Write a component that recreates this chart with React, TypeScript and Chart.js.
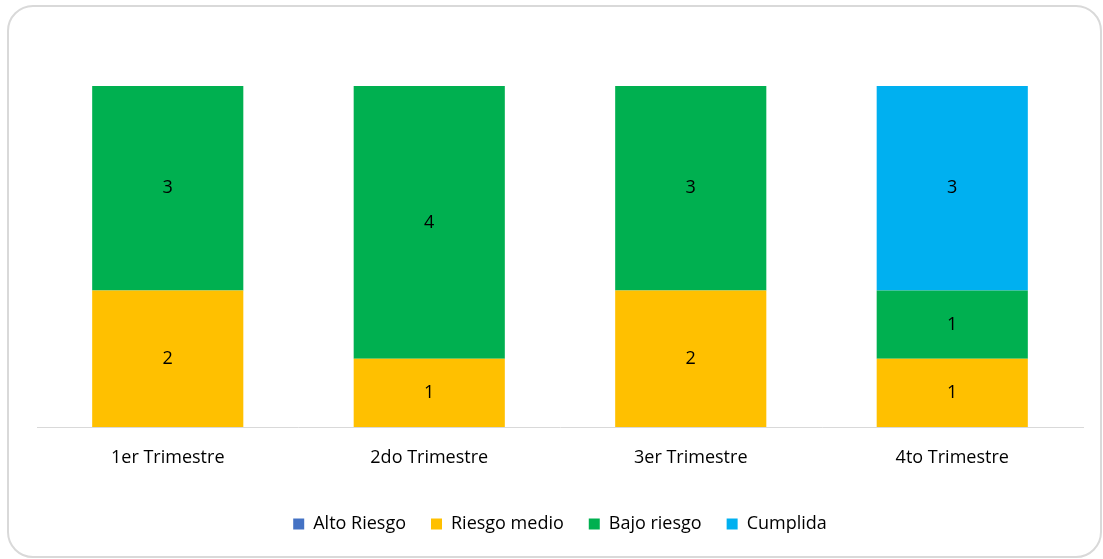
import React, { useEffect, useRef } from "react";
import { Chart, registerables } from "chart.js";

Chart.register(...registerables);

const categories = ["1er Trimestre", "2do Trimestre", "3er Trimestre", "4to Trimestre"];
const altoRiesgo = [0, 0, 0, 0];
const riesgoMedio = [2, 1, 2, 1];
const bajoRiesgo = [3, 4, 3, 1];
const cumplida = [0, 0, 0, 3];

const FONT = "'Open Sans', Lato, sans-serif";

const valueLabels = {
  id: "valueLabels",
  afterDatasetsDraw(chart: any) {
    const ctx = chart.ctx;
    ctx.save();
    ctx.font = `18px ${FONT}`;
    ctx.fillStyle = "#000000";
    ctx.textAlign = "center";
    ctx.textBaseline = "middle";
    chart.data.datasets.forEach((ds: any, i: number) => {
      const meta = chart.getDatasetMeta(i);
      meta.data.forEach((bar: any, j: number) => {
        const v = ds.data[j];
        if (!v) return;
        const y = (bar.y + bar.base) / 2;
        ctx.fillText(String(v), bar.x, y);
      });
    });
    ctx.restore();
  },
};

export default function App() {
  const ref = useRef<HTMLCanvasElement>(null);
  useEffect(() => {
    const chart = new Chart(ref.current!, {
      type: "bar",
      data: {
        labels: categories,
        datasets: [
          { label: "Alto Riesgo", data: altoRiesgo, backgroundColor: "#4472C4" },
          { label: "Riesgo medio", data: riesgoMedio, backgroundColor: "#FFC000" },
          { label: "Bajo riesgo", data: bajoRiesgo, backgroundColor: "#00B050" },
          { label: "Cumplida", data: cumplida, backgroundColor: "#00B0F0" },
        ],
      },
      options: {
        responsive: false,
        animation: false,
        layout: { padding: { left: 37, right: 20, top: 86, bottom: 16 } },
        datasets: { bar: { categoryPercentage: 1, barPercentage: 0.578 } },
        scales: {
          x: {
            stacked: true,
            grid: { display: false },
            border: { display: true, color: "#d9d9d9", width: 1 },
            ticks: { font: { family: FONT, size: 18 }, color: "#000000", padding: 12 },
            afterFit: (s: any) => {
              s.height = 63;
            },
          },
          y: {
            stacked: true,
            display: false,
            min: 0,
            max: 5,
          },
        },
        plugins: {
          legend: {
            position: "bottom",
            labels: {
              boxWidth: 11,
              boxHeight: 11,
              padding: 25,
              color: "#000000",
              font: { family: FONT, size: 18 },
            },
          },
          tooltip: { enabled: false },
        },
      },
      plugins: [valueLabels],
    });
    return () => chart.destroy();
  }, []);
  return (
    <div style={{ position: "absolute", left: 0, top: 0, width: 1103, height: 559, background: "#fff" }}>
      <canvas ref={ref} width={1103} height={559} style={{ display: "block" }} />
      <div
        style={{
          position: "absolute",
          left: 7,
          top: 5,
          width: 1095,
          height: 553,
          border: "2px solid #d9d9d9",
          borderRadius: 26,
          boxSizing: "border-box",
          pointerEvents: "none",
        }}
      />
    </div>
  );
}
